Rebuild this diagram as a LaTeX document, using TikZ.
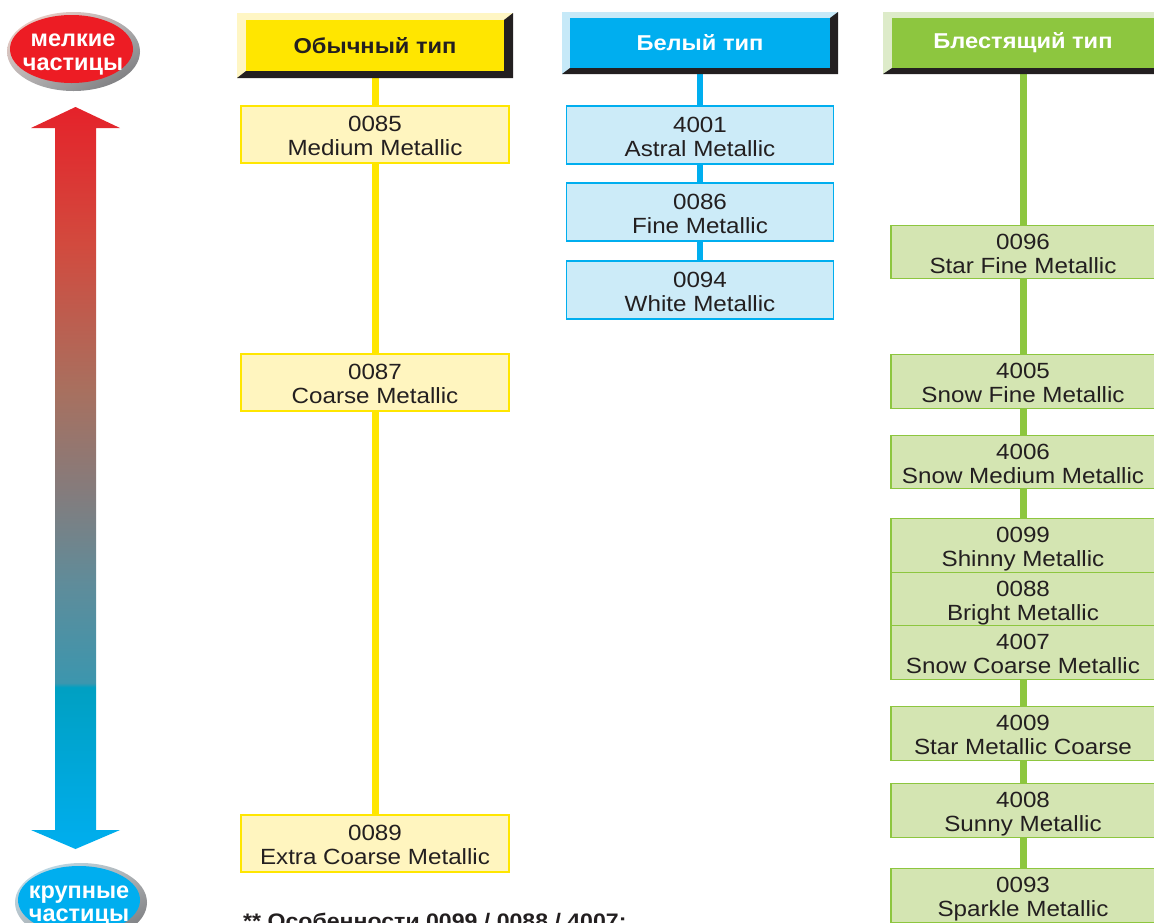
\documentclass[tikz,border=0pt]{standalone}
\usepackage{fontspec}
\setmainfont{Liberation Sans}
\newfontfamily\lab[FakeStretch=1.1]{Liberation Sans}
\newfontfamily\elab{Liberation Sans}
\usetikzlibrary{backgrounds,shadings}

\definecolor{txt}{HTML}{231F20}
\definecolor{yMain}{HTML}{FFE600}
\definecolor{yPale}{HTML}{FFF5BF}
\definecolor{yLight}{HTML}{FFF6C4}
\definecolor{bMain}{HTML}{00AEEF}
\definecolor{bPale}{HTML}{CCEBF8}
\definecolor{bLight}{HTML}{C6E9F8}
\definecolor{gMain}{HTML}{8DC63F}
\definecolor{gPale}{HTML}{D4E5B2}
\definecolor{gLight}{HTML}{DDEBC9}
\definecolor{bevDark}{HTML}{231F20}
\definecolor{eRed}{HTML}{ED1C24}
\definecolor{eBlue}{HTML}{00AEEF}
\definecolor{rimD}{HTML}{6D6E71}
\definecolor{rimM}{HTML}{B3B4B6}
\definecolor{rimRL}{HTML}{FBD3C8}
\definecolor{rimBL}{HTML}{BFE6F7}

\definecolor{aB}{HTML}{00AEEF}
\definecolor{aT}{HTML}{00A0C2}
\definecolor{aS}{HTML}{3C96AE}
\definecolor{aG1}{HTML}{5F8C9A}
\definecolor{aG2}{HTML}{867B7B}
\definecolor{aR2}{HTML}{A8705F}
\definecolor{aR1}{HTML}{D24A3E}
\definecolor{aR}{HTML}{E5222A}
\pgfdeclareverticalshading{arrshade}{100bp}{color(0bp)=(aB); color(25bp)=(aB); color(35.9bp)=(aT); color(36.2bp)=(aS); color(42.9bp)=(aG1); color(49.4bp)=(aG2); color(55.9bp)=(aR2); color(65.8bp)=(aR1); color(75bp)=(aR); color(100bp)=(aR)}

\tikzset{
  item/.style={rectangle, inner sep=0pt, align=center, text=txt, line width=1.3pt,
    font=\lab\fontsize{22}{24}\selectfont, text height=42.5pt, text depth=0pt},
  yitem/.style={item, draw=yMain, fill=yPale, minimum width=268pt, minimum height=57pt},
  bitem/.style={item, draw=bMain, fill=bPale, minimum width=267pt, minimum height=58pt},
  gitem/.style={item, draw=gMain, fill=gPale, minimum width=264pt, minimum height=53.5pt},
  hdr/.style={rectangle, inner sep=0pt, font=\lab\bfseries\fontsize{21.5}{24}\selectfont},
  yline/.style={draw=yMain, line width=7pt},
  bline/.style={draw=bMain, line width=6pt},
  gline/.style={draw=gMain, line width=7pt},
  etext/.style={align=center, inner sep=0pt, text=white,
    font=\elab\bfseries\fontsize{23.5}{23.5}\selectfont, text height=41pt, text depth=0pt},
}

\begin{document}
\begin{tikzpicture}[x=1pt,y=-1pt]
\useasboundingbox (0,0) rectangle (1154,922);

% ---- gradient double arrow
\shade[shading=arrshade] (75.5,107) -- (120,128) -- (96,128) -- (96,830) -- (120,830)
  -- (75.5,849) -- (31,830) -- (55,830) -- (55,128) -- (31,128) -- cycle;

% ---- top ellipse
\shade[upper left=rimRL, upper right=rimM, lower left=rimM, lower right=rimD]
  (73.5,51.5) ellipse [x radius=66.5, y radius=39.5];
\fill[eRed] (71.5,49) ellipse [x radius=61.5, y radius=34];
\node[etext, anchor=north] (fine) at (73,29) {мелкие\\частицы};

% ---- bottom ellipse
\shade[upper left=rimBL, upper right=rimM, lower left=rimM, lower right=rimD]
  (81,902.5) ellipse [x radius=66, y radius=39.5];
\fill[eBlue] (79,900) ellipse [x radius=61, y radius=34];
\node[etext, anchor=north] (coarse) at (79,880.5) {крупные\\частицы};

% ---- header bevels
\fill[yLight] (237,13) rectangle (513,78);
\fill[bevDark] (237,78) -- (513,78) -- (513,13) -- (504,20) -- (504,71) -- (246,71) -- cycle;
\fill[bLight] (562,12) rectangle (838,74);
\fill[bevDark] (562,74) -- (838,74) -- (838,12) -- (830,18) -- (830,68) -- (570,68) -- cycle;
\fill[gLight] (883,12) rectangle (1163,74);
\fill[bevDark] (883,74) -- (1163,74) -- (1163,12) -- (1154,18) -- (1154,68) -- (892,68) -- cycle;

% ---- headers
\node[hdr, fill=yMain, text=txt, minimum width=258pt, minimum height=51pt] (hY) at (375,45.5) {Обычный тип};
\node[hdr, fill=bMain, text=white, minimum width=260pt, minimum height=50pt] (hB) at (700,43) {Белый тип};
\node[hdr, fill=gMain, text=white, minimum width=262pt, minimum height=50pt] (hG) at (1023,43) {Блестящий тип};

% ---- yellow column
\node[yitem] (y85) at (375,134.5) {0085\\Medium Metallic};
\node[yitem] (y87) at (375,382.5) {0087\\Coarse Metallic};
\node[yitem] (y89) at (375,843.5) {0089\\Extra Coarse Metallic};

% ---- blue column
\node[bitem] (b4001) at (700,135) {4001\\Astral Metallic};
\node[bitem] (b0086) at (700,212) {0086\\Fine Metallic};
\node[bitem] (b0094) at (700,290) {0094\\White Metallic};

% ---- green column
\node[gitem] (g0096) at (1023,252) {0096\\Star Fine Metallic};
\node[gitem] (g4005) at (1023,381.5) {4005\\Snow Fine Metallic};
\node[gitem] (g4006) at (1023,462) {4006\\Snow Medium Metallic};
\node[gitem] (g0099) at (1023,545.5) {0099\\Shinny Metallic};
\node[gitem] (g0088) at (1023,599) {0088\\Bright Metallic};
\node[gitem] (g4007) at (1023,652.5) {4007\\Snow Coarse Metallic};
\node[gitem] (g4009) at (1023,733.5) {4009\\Star Metallic Coarse};
\node[gitem] (g4008) at (1023,810.5) {4008\\Sunny Metallic};
\node[gitem] (g0093) at (1023,895.5) {0093\\Sparkle Metallic};

% ---- note
\node[anchor=base west, inner sep=0pt, text=txt, font=\lab\bfseries\fontsize{21}{24}\selectfont]
  (note) at (243,928) {** Особенности 0099 / 0088 / 4007:};

% ---- connectors
\begin{pgfonlayer}{background}
\draw[yline] (hY) -- (y85);
\draw[yline] (y85) -- (y87);
\draw[yline] (y87) -- (y89);
\draw[bline] (hB) -- (b4001);
\draw[bline] (b4001) -- (b0086);
\draw[bline] (b0086) -- (b0094);
\draw[gline] (hG) -- (g0096);
\draw[gline] (g0096) -- (g4005);
\draw[gline] (g4005) -- (g4006);
\draw[gline] (g4006) -- (g0099);
\draw[gline] (g4007) -- (g4009);
\draw[gline] (g4009) -- (g4008);
\draw[gline] (g4008) -- (g0093);
\end{pgfonlayer}
\end{tikzpicture}
\end{document}
